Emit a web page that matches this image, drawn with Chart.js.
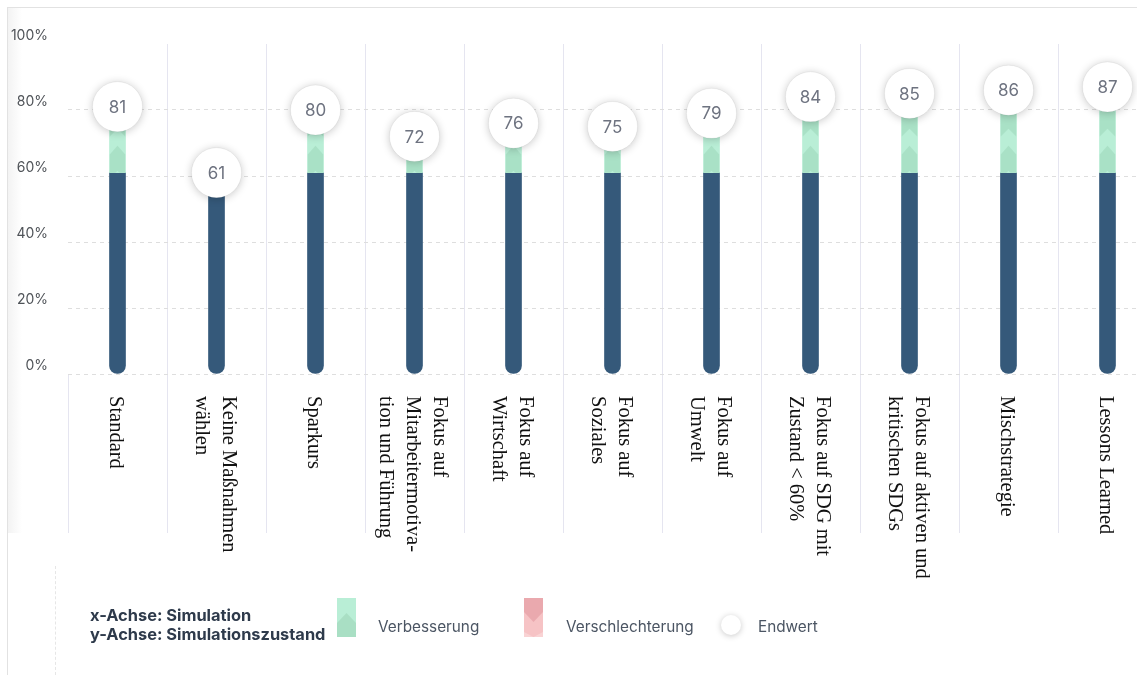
<!DOCTYPE html>
<html>
<head>
<meta charset="utf-8">
<script src="https://cdn.jsdelivr.net/npm/chart.js@4"></script>
<style>
  html, body { margin: 0; padding: 0; background: #fff; overflow: hidden; width: 1137px; height: 675px; }
  #clip { position: absolute; left: 0; top: 0; width: 1137px; height: 675px; overflow: hidden; }
  #wrap { position: absolute; left: 0; top: 0; width: 1160px; height: 675px; }
  #c { display: block; width: 1160px; height: 675px; }
  .frameTop { position: absolute; left: 7px; top: 7px; width: 1130px; height: 1px; background: #e2e2e2; }
  .frameLeft { position: absolute; left: 7px; top: 7px; width: 1px; height: 668px; background: #e2e2e2; }
  .shade { position: absolute; left: 8px; top: 8px; width: 14px; height: 525px; background: linear-gradient(to right, #f3f3f3, rgba(255,255,255,0)); }
  .dotted { position: absolute; left: 55px; top: 566px; width: 0; height: 109px; border-left: 1px dashed #e6e6e6; }
  .leg { position: absolute; font-family: Inter, "Open Sans", sans-serif; white-space: nowrap; }
  .axisinfo { left: 90px; top: 606px; font-size: 16.4px; font-weight: 700; color: #2e3a4b; line-height: 19px; }
  .lt { font-size: 15.3px; color: #4b5563; top: 617px; }
  .dot { position: absolute; left: 721px; top: 615px; width: 20px; height: 20px; border-radius: 50%; background: #fff; box-shadow: 0 1px 6px rgba(0,0,0,0.22); }
</style>
</head>
<body>
<div id="clip">
<div class="frameTop"></div>
<div class="frameLeft"></div>
<div class="shade"></div>
<div id="wrap"><canvas id="c" width="1160" height="675"></canvas></div>
<div class="dotted"></div>
<div class="leg axisinfo">x-Achse: Simulation<br>y-Achse: Simulationszustand</div>
<svg class="leg" style="left:337px;top:598px" width="19" height="39">
  <rect x="0" y="0" width="19" height="39" fill="#b9eed6"/>
  <polygon points="0,25 9.5,15 19,25 19,39 0,39" fill="#a9dfc4"/>
</svg>
<div class="leg lt" style="left:378px">Verbesserung</div>
<svg class="leg" style="left:524px;top:598px" width="19" height="39">
  <rect x="0" y="0" width="19" height="39" fill="#f6c3c5"/>
  <polygon points="0,0 19,0 19,14 9.5,24 0,14" fill="#eaa9ae"/>
  <polygon points="0,34 9.5,39 19,34 19,39 0,39" fill="#f9d3d4"/>
</svg>
<div class="leg lt" style="left:566px">Verschlechterung</div>
<div class="dot"></div>
<div class="leg lt" style="left:758px">Endwert</div>
</div>

<script>
// ---- data ----
const categories = [
  ["Standard"],
  ["Keine Maßnahmen", "wählen"],
  ["Sparkurs"],
  ["Fokus auf", "Mitarbeitermotiva-", "tion und Führung"],
  ["Fokus auf", "Wirtschaft"],
  ["Fokus auf", "Soziales"],
  ["Fokus auf", "Umwelt"],
  ["Fokus auf SDG mit", "Zustand < 60%"],
  ["Fokus auf aktiven und", "kritischen SDGs"],
  ["Mischstrategie"],
  ["Lessons Learned"]
];
const startValues = [61, 61, 61, 61, 61, 61, 61, 61, 61, 61, 61];
const endValues = [81, 61, 80, 72, 76, 75, 79, 84, 85, 86, 87];
const yTickValues = [0, 20, 40, 60, 80, 100];

const improvement = endValues.map((v, i) => [startValues[i], v]);

const DARK = '#35597a';
const MINT = '#b9eed6';
const MINT_DARK = 'rgba(140,200,170,0.35)';

const chevronPlugin = {
  id: 'chevrons',
  afterDatasetDraw(chart, args) {
    if (args.index !== 1) return;
    const ctx = chart.ctx;
    args.meta.data.forEach(el => {
      const p = el.getProps(['x', 'y', 'base', 'width'], true);
      const top = Math.min(p.y, p.base), bot = Math.max(p.y, p.base);
      if (bot - top < 1) return;
      const l = p.x - p.width / 2, r = p.x + p.width / 2, c = p.x;
      ctx.save();
      ctx.beginPath();
      ctx.rect(l, top, p.width, bot - top);
      ctx.clip();
      ctx.fillStyle = MINT_DARK;
      for (let y0 = bot + 6; y0 > top - 40; y0 -= 42) {
        ctx.beginPath();
        ctx.moveTo(l, y0);
        ctx.lineTo(c, y0 - 8);
        ctx.lineTo(r, y0);
        ctx.lineTo(r, y0 - 24);
        ctx.lineTo(c, y0 - 33);
        ctx.lineTo(l, y0 - 24);
        ctx.closePath();
        ctx.fill();
      }
      ctx.restore();
    });
  }
};

const bubblePlugin = {
  id: 'bubbles',
  beforeDatasetDraw(chart, args) {
    if (args.index !== 2) return;
    const ctx = chart.ctx;
    ctx.save();
    ctx.shadowColor = 'rgba(0,0,0,0.22)';
    ctx.shadowBlur = 9;
    ctx.shadowOffsetY = 1;
  },
  afterDatasetDraw(chart, args) {
    if (args.index !== 2) return;
    const ctx = chart.ctx;
    ctx.restore();
    ctx.save();
    ctx.fillStyle = '#6e7380';
    ctx.font = '17px Inter, "Open Sans", sans-serif';
    ctx.textAlign = 'center';
    ctx.textBaseline = 'middle';
    args.meta.data.forEach((el, i) => {
      ctx.fillText(String(endValues[i]), el.x, el.y + 1);
    });
    ctx.restore();
  }
};

const xLabelPlugin = {
  id: 'xlabels',
  afterDraw(chart) {
    const ctx = chart.ctx;
    const xs = chart.scales.x;
    const topY = chart.chartArea.bottom + 22;
    const lh = 27;
    ctx.save();
    ctx.fillStyle = '#111';
    ctx.font = '20.5px "Liberation Serif", "Times New Roman", serif';
    ctx.textAlign = 'left';
    ctx.textBaseline = 'middle';
    categories.forEach((lines, i) => {
      const x = xs.getPixelForTick(i) - 2;
      ctx.save();
      ctx.translate(x, topY);
      ctx.rotate(Math.PI / 2);
      const n = lines.length;
      lines.forEach((t, j) => {
        ctx.fillText(t, 0, (j - (n - 1) / 2) * lh);
      });
      ctx.restore();
    });
    ctx.restore();
  }
};

new Chart(document.getElementById('c'), {
  data: {
    labels: categories.map(c => c.join(' ')),
    datasets: [
      {
        type: 'bar',
        label: 'Startwert',
        data: startValues,
        backgroundColor: DARK,
        barThickness: 16,
        borderRadius: { topLeft: 0, topRight: 0, bottomLeft: 8, bottomRight: 8 },
        borderSkipped: false,
        order: 2
      },
      {
        type: 'bar',
        label: 'Verbesserung',
        data: improvement,
        backgroundColor: MINT,
        barThickness: 16,
        borderSkipped: false,
        order: 1
      },
      {
        type: 'line',
        label: 'Endwert',
        data: endValues,
        showLine: false,
        pointRadius: 25,
        pointHoverRadius: 25,
        pointBackgroundColor: '#ffffff',
        pointBorderColor: 'rgba(0,0,0,0.05)',
        pointBorderWidth: 1,
        clip: false,
        order: 0
      }
    ]
  },
  options: {
    responsive: false,
    maintainAspectRatio: false,
    animation: false,
    devicePixelRatio: 1,
    events: [],
    layout: { autoPadding: false, padding: { top: 44, right: 3, left: 0, bottom: 0 } },
    plugins: { legend: { display: false }, tooltip: { enabled: false } },
    scales: {
      x: {
        stacked: true,
        offset: true,
        afterFit(scale) { scale.height = 301; },
        ticks: { display: false },
        border: { display: false },
        grid: {
          offset: true,
          color: (c) => (c.index === 0 ? 'rgba(0,0,0,0)' : '#e5e5f0'),
          tickColor: '#e5e5f0',
          drawTicks: true,
          tickLength: 159,
          lineWidth: 1
        }
      },
      y: {
        min: 0,
        max: 100,
        afterFit(scale) { scale.width = 68; },
        afterBuildTicks(scale) { scale.ticks = yTickValues.map(v => ({ value: v })); },
        ticks: {
          padding: 20,
          labelOffset: -8,
          color: '#4f5358',
          font: { family: 'Inter, "Open Sans", sans-serif', size: 14 },
          callback: (v) => v + '%'
        },
        border: { display: false, dash: [4, 4] },
        grid: {
          drawTicks: false,
          color: (c) => (c.tick && c.tick.value === 100 ? 'rgba(0,0,0,0)' : '#dedede')
        }
      }
    }
  },
  plugins: [chevronPlugin, bubblePlugin, xLabelPlugin]
});
</script>
</body>
</html>
